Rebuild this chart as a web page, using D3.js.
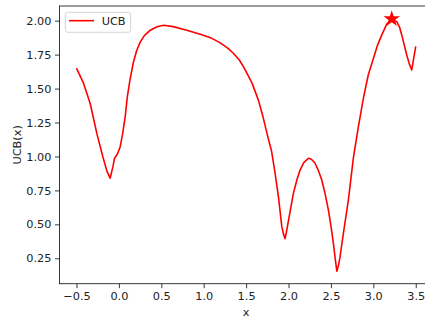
<!DOCTYPE html>
<html>
<head>
<meta charset="utf-8">
<script src="https://cdn.jsdelivr.net/npm/d3@7"></script>
<style>
  body { margin: 0; background: #fff; }
  svg { display: block; font-family: "DejaVu Sans", sans-serif; }
</style>
</head>
<body>
<div id="wrapper"></div>
<script>
// DATA
const xs = [-0.5, -0.417, -0.338, -0.26, -0.19, -0.14, -0.103, -0.07, -0.052, -0.016, 0.015,
  0.045, 0.074, 0.10, 0.13, 0.17, 0.21, 0.25, 0.30, 0.37, 0.45, 0.53, 0.64, 0.80, 0.96,
  1.08, 1.19, 1.28, 1.35, 1.42, 1.47, 1.52, 1.57, 1.645, 1.70, 1.76, 1.80, 1.842, 1.881,
  1.921, 1.94, 1.96, 1.98, 2.0, 2.058, 2.10, 2.136, 2.18, 2.234, 2.27, 2.313, 2.35, 2.392,
  2.43, 2.47, 2.50, 2.529, 2.55, 2.57, 2.59, 2.608, 2.647, 2.706, 2.765, 2.824, 2.883,
  2.94, 3.0, 3.05, 3.10, 3.158, 3.217, 3.276, 3.31, 3.335, 3.365, 3.394, 3.425, 3.453, 3.5];
const ucb = [1.65, 1.54, 1.39, 1.17, 1.00, 0.89, 0.84, 0.925, 0.985, 1.02, 1.07,
  1.17, 1.29, 1.44, 1.56, 1.69, 1.78, 1.84, 1.89, 1.93, 1.955, 1.966, 1.956, 1.93, 1.90,
  1.875, 1.838, 1.80, 1.76, 1.71, 1.66, 1.60, 1.54, 1.415, 1.29, 1.135, 1.04, 0.876, 0.704,
  0.483, 0.43, 0.395, 0.46, 0.53, 0.73, 0.83, 0.90, 0.955, 0.987, 0.98, 0.95, 0.90, 0.827,
  0.73, 0.606, 0.49, 0.36, 0.25, 0.155, 0.20, 0.262, 0.434, 0.68, 0.99, 1.22, 1.43,
  1.60, 1.72, 1.82, 1.895, 1.975, 2.013, 1.993, 1.95, 1.895, 1.82, 1.747, 1.68, 1.637, 1.81];
const best = [3.217, 2.013];
const xTicks = [-0.5, 0.0, 0.5, 1.0, 1.5, 2.0, 2.5, 3.0, 3.5];
const yTicks = [0.25, 0.50, 0.75, 1.00, 1.25, 1.50, 1.75, 2.00];

const points = xs.map((x, i) => ({ x: x, y: ucb[i] }));

//SVG
const W = 425, H = 317;
const svg = d3.select("#wrapper").append("svg")
  .attr("width", W).attr("height", H);

const mLeft = 59.5, mTop = 6, mBottom = 283.7, mRight = 432.7;
const fs = 11.3;

const x = d3.scaleLinear().domain([-0.7, 3.7]).range([mLeft, mRight]);
const y = d3.scaleLinear().domain([0.063, 2.108]).range([mBottom, mTop]);

const fmtX = d3.format(".1f"), fmtY = d3.format(".2f");

//AXES
const xAxis = svg.append("g")
  .attr("transform", `translate(0,${mBottom})`)
  .call(d3.axisBottom(x).tickValues(xTicks).tickFormat(fmtX).tickSizeOuter(0).tickSize(4.5).tickPadding(3.5));
const yAxis = svg.append("g")
  .attr("transform", `translate(${mLeft},0)`)
  .call(d3.axisLeft(y).tickValues(yTicks).tickFormat(fmtY).tickSizeOuter(0).tickSize(4.5).tickPadding(3.5));

[xAxis, yAxis].forEach(a => {
  a.select(".domain").remove();
  a.selectAll("line").attr("stroke", "#222").attr("stroke-width", 0.9);
  a.selectAll("text").attr("font-family", "DejaVu Sans").attr("font-size", fs).attr("fill", "#222");
});

// spines
svg.append("rect")
  .attr("x", mLeft).attr("y", mTop)
  .attr("width", mRight - mLeft).attr("height", mBottom - mTop)
  .attr("fill", "none").attr("stroke", "#222").attr("stroke-width", 0.9);

// labels
svg.append("text")
  .attr("x", (mLeft + mRight) / 2).attr("y", 315.5)
  .attr("text-anchor", "middle").attr("font-size", fs).attr("fill", "#222")
  .text("x");
svg.append("text")
  .attr("transform", `translate(21,${(mTop + mBottom) / 2}) rotate(-90)`)
  .attr("text-anchor", "middle").attr("font-size", fs).attr("fill", "#222")
  .text("UCB(x)");

//LINE
const line = d3.line().x(d => x(d.x)).y(d => y(d.y));
svg.append("path")
  .datum(points)
  .attr("d", line)
  .attr("fill", "none")
  .attr("stroke", "#ff0000")
  .attr("stroke-width", 1.6)
  .attr("stroke-linejoin", "round");

//STAR
svg.append("path")
  .attr("d", d3.symbol().type(d3.symbolStar).size(85)())
  .attr("transform", `translate(${x(best[0])},${y(best[1])})`)
  .attr("fill", "#ff0000");

//LEGEND
const lg = svg.append("g").attr("transform", "translate(65.3,12.3)");
lg.append("rect")
  .attr("width", 65.4).attr("height", 20)
  .attr("rx", 2.5)
  .attr("fill", "white").attr("fill-opacity", 0.8)
  .attr("stroke", "#d0d0d0").attr("stroke-width", 0.9);
lg.append("line")
  .attr("x1", 3.7).attr("x2", 28.7).attr("y1", 8.4).attr("y2", 8.4)
  .attr("stroke", "#ff0000").attr("stroke-width", 1.6);
lg.append("text")
  .attr("x", 36.4).attr("y", 12.6)
  .attr("font-size", fs).attr("fill", "#222")
  .text("UCB");
</script>
</body>
</html>
